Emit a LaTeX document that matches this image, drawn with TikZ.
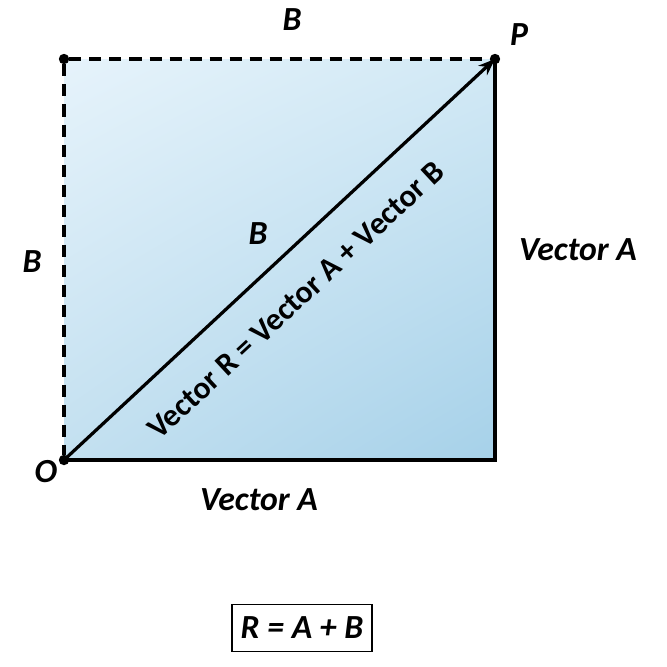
\documentclass[tikz,border=0pt]{standalone}
\usepackage{fontspec}
\setmainfont{Carlito}
\usetikzlibrary{positioning,arrows.meta,shadings}

\definecolor{fillUL}{HTML}{E6F3FB}
\definecolor{fillUR}{HTML}{D2E9F5}
\definecolor{fillLL}{HTML}{C3E0F0}
\definecolor{fillLR}{HTML}{A6D1E9}

\begin{document}
\begin{tikzpicture}[x=0.025cm, y=-0.025cm]
  \tikzstyle{corner} = [circle, fill=black, inner sep=0pt, minimum width=0.26cm]
  \tikzstyle{lbl} = [font=\fontsize{24}{28}\selectfont\bfseries\itshape]
  \tikzstyle{side} = [line width=2.3pt, dash pattern=on 0.3cm off 0.2cm]
  \tikzstyle{edge} = [line width=2.3pt]

  \useasboundingbox (0,0) rectangle (667,667);

  \shade[upper left=fillUL, upper right=fillUR, lower left=fillLL, lower right=fillLR]
    (64,59) rectangle (495,460);

  \node[corner] (O) at (64,460) {};
  \node[corner] (P) at (495,59) {};
  \node[corner] (Q) at (64,59) {};
  \coordinate (C) at (495,460);

  \draw[side] (Q) -- (P);
  \draw[side] (Q) -- (O);
  \draw[edge] (O.center) -- (C) -- (P.center);
  \draw[edge, -{Stealth[length=0.42cm, width=0.32cm]}] (O.center) -- (P.center);

  \node[lbl] (lO) at (46,472) {O};
  \node[lbl] (lP) at (519,35) {P};
  \node[lbl] (topB) at (292,20) {B};
  \node[lbl] (leftB) at (32,262) {B};
  \node[lbl] (midB) at (258,234) {B};
  \node[lbl] (rightA) at (578,250) {Vector A};
  \node[lbl] (bottomA) at (259,500) {Vector A};

  \node[font=\fontsize{22.5}{26}\selectfont\bfseries, rotate=42.9] (sum) at (296,300)
    {Vector R = Vector A + Vector B};

  \node[lbl, draw, line width=1.2pt, minimum width=3.5cm, minimum height=1.17cm] (eq) at (302,628)
    {R = A + B};

\end{tikzpicture}
\end{document}
